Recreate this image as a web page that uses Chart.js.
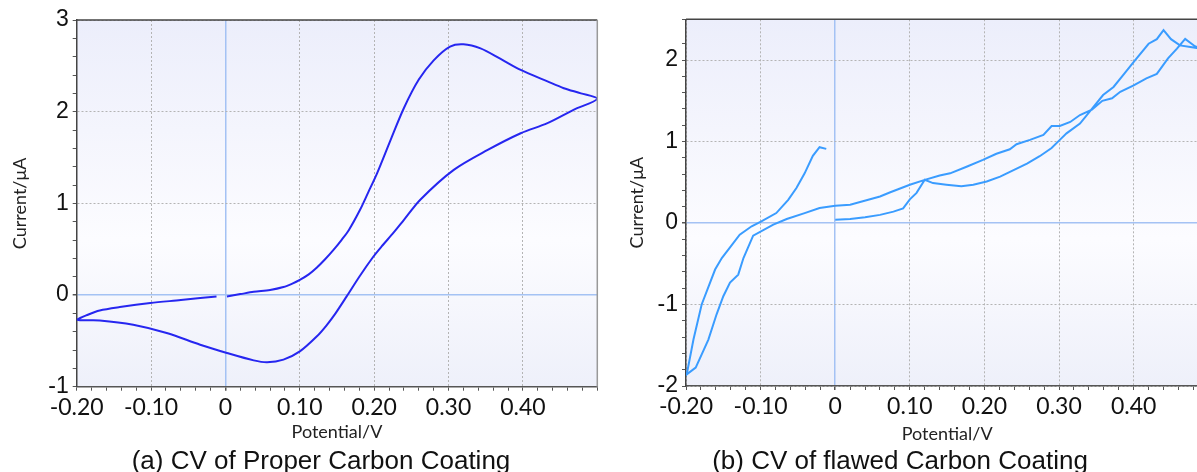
<!DOCTYPE html>
<html>
<head>
<meta charset="utf-8">
<script src="https://cdn.jsdelivr.net/npm/chart.js@4.4.1/dist/chart.umd.min.js"></script>
<style>
  html, body { margin: 0; padding: 0; width: 1197px; height: 472px; overflow: hidden; background: #fff; }
  .panel { position: absolute; top: 0; height: 472px; }
  .caption { position: absolute; top: 445px; line-height: 30px; font: 26px "Liberation Sans", Arial, sans-serif;
             color: #111; white-space: nowrap; transform: translateX(-50%); }
</style>
</head>
<body>
<div class="panel" style="left:0;width:612px"><canvas id="cvProper" width="612" height="472"></canvas></div>
<div class="panel" style="left:610px;width:605px"><canvas id="cvFlawed" width="605" height="472"></canvas></div>
<div class="caption" style="left:321px">(a) CV of Proper Carbon Coating</div>
<div class="caption" style="left:900px">(b) CV of flawed Carbon Coating</div>

<script>
// (a) proper coating: one sweep, starting at 0 V going positive, back to -0.2 V, then up to ~0 V
const properPotential = [
  0.002, 0.020, 0.038, 0.060, 0.078, 0.090, 0.100, 0.112, 0.123, 0.134, 0.145, 0.156, 0.166, 0.181,
  0.192, 0.204, 0.222, 0.240, 0.260, 0.280, 0.302, 0.320, 0.343, 0.370, 0.397, 0.433, 0.455, 0.478, 0.500,
  0.468, 0.433, 0.397, 0.352, 0.307, 0.262, 0.240, 0.226, 0.210, 0.199, 0.180, 0.163, 0.148, 0.136,
  0.123, 0.100, 0.078, 0.056, 0.038, 0.002, -0.034, -0.079, -0.124, -0.169, -0.199,
  -0.185, -0.169, -0.142, -0.101, -0.060, -0.034, -0.012
];
const properCurrent = [
  -0.015, 0.010, 0.035, 0.055, 0.087, 0.125, 0.165, 0.225, 0.300, 0.390, 0.490, 0.600, 0.710, 0.930,
  1.120, 1.330, 1.690, 2.040, 2.350, 2.560, 2.710, 2.735, 2.690, 2.575, 2.455, 2.330, 2.256, 2.200, 2.140,
  2.020, 1.875, 1.765, 1.580, 1.365, 1.040, 0.820, 0.680, 0.530, 0.420, 0.200, -0.015, -0.200, -0.330,
  -0.450, -0.615, -0.705, -0.734, -0.713, -0.632, -0.542, -0.414, -0.324, -0.277, -0.270,
  -0.215, -0.168, -0.131, -0.087, -0.055, -0.033, -0.015
];

// (b) flawed coating
const flawedPotential = [
  0.000, 0.020, 0.040, 0.060, 0.078, 0.091, 0.100, 0.109, 0.120, 0.131, 0.149, 0.169, 0.185, 0.203,
  0.221, 0.239, 0.257, 0.274, 0.290, 0.301, 0.310, 0.328, 0.341, 0.359, 0.373, 0.388, 0.402, 0.420,
  0.431, 0.440, 0.450, 0.462, 0.476, 0.490,
  0.482, 0.469, 0.458, 0.446, 0.431, 0.417, 0.400, 0.382, 0.371, 0.358, 0.344, 0.328, 0.315, 0.301,
  0.290, 0.279, 0.261, 0.243, 0.234, 0.216, 0.198, 0.176, 0.154, 0.140, 0.120, 0.100, 0.073, 0.060,
  0.020, 0.000, -0.021, -0.041, -0.065, -0.083, -0.110, -0.123, -0.130, -0.141, -0.150, -0.159,
  -0.170, -0.187, -0.199,
  -0.190, -0.179, -0.161, -0.152, -0.141, -0.128, -0.112, -0.099, -0.079, -0.063, -0.052, -0.041,
  -0.030, -0.021, -0.012
];
const flawedCurrent = [
  0.040, 0.049, 0.070, 0.100, 0.140, 0.180, 0.290, 0.370, 0.530, 0.490, 0.470, 0.450, 0.470, 0.510,
  0.570, 0.650, 0.730, 0.820, 0.920, 1.020, 1.100, 1.220, 1.366, 1.570, 1.670, 1.840, 2.000, 2.200,
  2.256, 2.366, 2.256, 2.180, 2.160, 2.140,
  2.170, 2.260, 2.140, 2.020, 1.830, 1.775, 1.690, 1.610, 1.530, 1.500, 1.390, 1.325, 1.240, 1.190,
  1.190, 1.080, 1.020, 0.967, 0.905, 0.850, 0.775, 0.690, 0.610, 0.583, 0.530, 0.470, 0.375, 0.326,
  0.224, 0.212, 0.184, 0.122, 0.049, -0.020, -0.155, -0.430, -0.633, -0.730, -0.898, -1.120,
  -1.430, -1.775, -1.857,
  -1.430, -1.000, -0.571, -0.430, -0.300, -0.143, -0.040, 0.020, 0.122, 0.285, 0.430, 0.610,
  0.824, 0.930, 0.910
];

const xTickValues = [-0.2, -0.1, 0, 0.1, 0.2, 0.3, 0.4];

const isZero = v => Math.abs(v) < 1e-9;
const isInt = v => Math.abs(v - Math.round(v)) < 1e-6;

const cvBackground = {
  id: 'cvBackground',
  beforeDraw(chart) {
    const { ctx, chartArea: a } = chart;
    const g = ctx.createLinearGradient(0, a.top, 0, a.bottom);
    g.addColorStop(0, '#eceefb');
    g.addColorStop(0.6, '#fcfcff');
    g.addColorStop(1, '#eef0fa');
    ctx.save();
    ctx.fillStyle = g;
    ctx.fillRect(a.left, a.top, a.right - a.left, a.bottom - a.top);
    ctx.restore();
  },
  afterDraw(chart) {
    const { ctx, chartArea: a } = chart;
    ctx.save();
    ctx.strokeStyle = '#444';
    ctx.lineWidth = 1.5;
    ctx.beginPath();
    ctx.moveTo(a.left, a.top);
    ctx.lineTo(a.right, a.top);
    ctx.stroke();
    ctx.strokeStyle = '#999';
    ctx.beginPath();
    ctx.moveTo(a.right, a.top);
    ctx.lineTo(a.right, a.bottom);
    ctx.stroke();
    ctx.restore();
  }
};

function drawCV(canvas, v, i, cfg) {
  const gridDash = c => (c.tick && isZero(c.tick.value)) ? [] : [2, 2];
  const gridWidth = c => (c.tick && isZero(c.tick.value)) ? 1.5 : 1;

  return new Chart(canvas, {
    type: 'scatter',
    data: {
      datasets: [{
        data: v.map((x, k) => ({ x, y: i[k] })),
        showLine: true,
        borderColor: cfg.color,
        borderWidth: 2,
        pointRadius: 0,
        tension: cfg.tension,
        fill: false
      }]
    },
    options: {
      responsive: false,
      animation: false,
      layout: { padding: { top: cfg.top, right: cfg.right, left: 0, bottom: 0 } },
      plugins: { legend: { display: false }, tooltip: { enabled: false } },
      scales: {
        x: {
          type: 'linear',
          min: -0.2,
          max: 0.5,
          afterFit: s => { s.height = cfg.xHeight; },
          ticks: {
            stepSize: 0.02,
            autoSkip: false,
            maxRotation: 0,
            padding: 3,
            color: '#111',
            font: { family: 'Lato', size: 23 },
            callback: val => {
              const hit = xTickValues.find(t => Math.abs(t - val) < 1e-6);
              if (hit === undefined) return '';
              return hit === 0 ? '0' : hit.toFixed(2);
            }
          },
          grid: {
            color: c => {
              const val = c.tick ? c.tick.value : NaN;
              if (isZero(val)) return '#a4c2f4';
              return xTickValues.some(t => Math.abs(t - val) < 1e-6) || Math.abs(val - 0.5) < 1e-6 ? '#b4b4b4' : 'rgba(0,0,0,0)';
            },
            lineWidth: gridWidth,
            tickColor: '#555',
            tickLength: 4
          },
          border: { color: '#555', width: 1.5, dash: gridDash },
          title: {
            display: true,
            text: 'Potential/V',
            color: '#222',
            font: { family: 'Lato', size: 18 },
            padding: { top: 0, bottom: cfg.xTitlePad }
          }
        },
        y: {
          type: 'linear',
          min: cfg.yMin,
          max: cfg.yMax,
          afterFit: s => { s.width = cfg.yWidth; },
          ticks: {
            stepSize: 0.2,
            autoSkip: false,
            padding: 4,
            color: '#111',
            font: { family: 'Liberation Sans', size: 23 },
            callback: val => isInt(val) ? String(Math.round(val)) : ''
          },
          grid: {
            color: c => {
              const val = c.tick ? c.tick.value : NaN;
              if (isZero(val)) return '#a4c2f4';
              return isInt(val) ? '#b4b4b4' : 'rgba(0,0,0,0)';
            },
            lineWidth: gridWidth,
            tickColor: '#555',
            tickLength: 4
          },
          border: { color: '#444', width: 1.5, dash: gridDash },
          title: {
            display: true,
            text: 'Current/μA',
            color: '#222',
            font: { family: 'Lato', size: 18 },
            padding: { top: cfg.yTitlePad, bottom: 0 }
          }
        }
      }
    },
    plugins: [cvBackground]
  });
}

drawCV(document.getElementById('cvProper'), properPotential, properCurrent, {
  color: '#2626f0', tension: 0.3,
  top: 20, right: 14.7, xHeight: 85.3, yWidth: 76.7,
  yMin: -1, yMax: 3,
  xTitlePad: 29.5, yTitlePad: 9
});

drawCV(document.getElementById('cvFlawed'), flawedPotential, flawedCurrent, {
  color: '#3a9cff', tension: 0,
  top: 19.3, right: 6.7, xHeight: 86, yWidth: 76,
  yMin: -2, yMax: 2.5,
  xTitlePad: 27.5, yTitlePad: 16
});
</script>
</body>
</html>
